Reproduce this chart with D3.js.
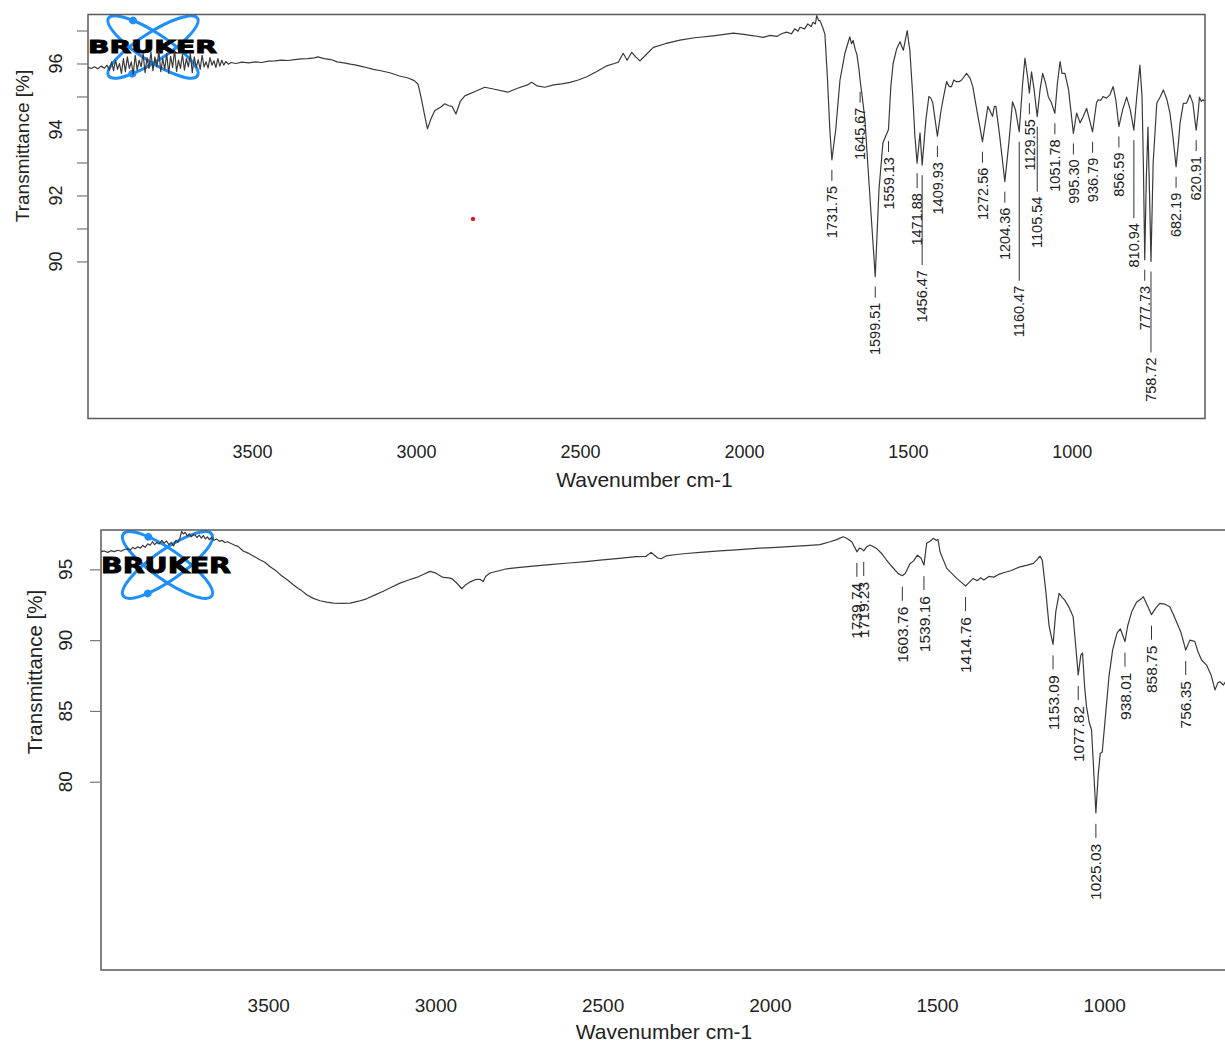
<!DOCTYPE html>
<html>
<head>
<meta charset="utf-8">
<script src="https://cdn.jsdelivr.net/npm/d3@7"></script>
<style>
body { margin: 0; background: #fff; }
svg { display: block; font-family: "Liberation Sans", Arial, sans-serif; }
</style>
</head>
<body>
<svg width="1225" height="1045"></svg>
<script>
// ---- data: [wavenumber cm-1, transmittance %] ----
let topSpectrum = [
	[4000,95.88],[3990,95.85],[3980,95.9],[3970,95.84],[3960,95.92],[3950,95.86],[3942,95.95],[3935,95.8],
	[3928,96.05],[3922,95.78],[3916,96.1],[3910,95.82],[3904,96.0],[3898,95.7],[3892,96.15],[3886,95.75],
	[3880,96.2],[3874,95.85],[3868,96.05],[3862,95.68],[3856,96.25],[3850,95.8],[3844,96.1],[3838,95.9],
	[3832,96.3],[3826,95.72],[3820,96.18],[3814,95.85],[3808,96.35],[3802,95.78],[3796,96.2],[3790,95.9],
	[3784,96.38],[3778,95.75],[3772,96.15],[3766,95.82],[3760,96.3],[3754,95.7],[3748,96.22],[3742,95.88],
	[3736,96.4],[3730,95.76],[3724,96.1],[3718,95.85],[3712,96.28],[3706,95.8],[3700,96.15],[3694,95.9],
	[3688,96.3],[3682,95.72],[3676,96.2],[3670,95.88],[3664,96.12],[3658,95.82],[3652,96.25],[3646,95.9],
	[3640,96.05],[3634,95.86],[3628,96.18],[3622,95.95],[3616,96.08],[3610,95.88],[3604,96.15],[3598,95.92],
	[3592,96.1],[3586,95.95],[3580,96.06],[3572,95.98],[3564,96.03],[3550,96.0],[3530,96.04],[3510,96.02],
	[3490,96.05],[3470,96.03],[3450,96.07],[3430,96.08],[3410,96.1],[3390,96.09],[3370,96.12],[3350,96.14],
	[3330,96.15],[3310,96.17],[3299,96.2],[3280,96.15],[3260,96.12],[3240,96.05],[3220,96.02],[3200,95.98],
	[3186,95.96],[3160,95.9],[3130,95.82],[3107,95.78],[3080,95.72],[3050,95.62],[3024,95.56],[3005,95.48],
	[2994,95.38],[2985,95.0],[2975,94.5],[2965,94.02],[2955,94.3],[2943,94.57],[2924,94.68],[2912,94.78],
	[2900,94.72],[2890,94.7],[2878,94.47],[2865,94.85],[2851,95.02],[2820,95.15],[2790,95.28],[2760,95.22],
	[2720,95.13],[2690,95.25],[2660,95.35],[2647,95.43],[2630,95.32],[2607,95.28],[2580,95.35],[2555,95.38],
	[2530,95.43],[2505,95.5],[2479,95.6],[2450,95.75],[2418,95.93],[2395,96.0],[2383,96.04],[2368,96.31],
	[2356,96.1],[2342,96.34],[2330,96.2],[2317,96.08],[2300,96.25],[2276,96.49],[2240,96.6],[2195,96.71],
	[2150,96.78],[2093,96.84],[2060,96.88],[2032,96.92],[2000,96.88],[1970,96.84],[1941,96.79],[1920,96.85],
	[1900,96.82],[1885,96.9],[1870,96.95],[1855,96.9],[1845,97.05],[1835,96.98],[1829,97.1],[1815,97.05],
	[1805,97.2],[1795,97.12],[1789,97.25],[1782,97.2],[1778,97.45],[1772,97.3],[1768,97.3],[1760,97.1],
	[1753,96.89],[1745,95.5],[1738,94.0],[1731.75,93.08],[1720,94.0],[1707,95.5],[1692,96.31],[1677,96.81],
	[1672,96.6],[1667,96.7],[1660,96.4],[1656,96.3],[1650,95.9],[1645.67,95.5],[1638,94.9],[1631,94.3],
	[1616,92.0],[1599.51,89.54],[1588,92.2],[1576,93.6],[1559.13,94.0],[1552,95.3],[1545,96.0],[1534,96.45],
	[1524,96.66],[1518,96.5],[1514,96.4],[1508,96.7],[1502,97.0],[1497,96.6],[1494,96.4],[1485,95.0],
	[1478.5,93.78],[1471.88,92.98],[1463,93.9],[1456.47,92.92],[1445,94.3],[1436,95.0],[1430,94.95],[1424,94.8],
	[1409.93,93.8],[1400,94.5],[1393,94.9],[1382,95.45],[1374,95.3],[1367,95.3],[1360,95.5],[1352,95.45],
	[1344,95.45],[1336,95.5],[1321,95.7],[1310,95.55],[1302,95.3],[1290,94.6],[1272.56,93.63],[1256,94.7],
	[1249,94.55],[1242,94.4],[1236,94.7],[1231.5,94.7],[1220,93.8],[1204.36,92.42],[1192,93.6],[1181,94.84],
	[1172,94.6],[1160.47,93.93],[1150,95.4],[1143,96.16],[1135,95.6],[1129.55,95.1],[1123,95.75],[1115,95.2],
	[1105.54,94.39],[1097,95.2],[1089,95.7],[1080,95.4],[1072,95.0],[1062,94.8],[1051.78,94.49],[1044,95.4],
	[1036,96.06],[1030,95.7],[1021,95.7],[1010,95.2],[995.3,93.88],[985.5,94.5],[975,94.2],[965,94.4],
	[955,94.64],[936.79,93.93],[925,94.8],[920,94.9],[912,94.88],[905,95.0],[895,94.95],[884,95.05],
	[874,95.3],[866,94.9],[856.59,94.09],[845,94.6],[833,94.98],[822,94.6],[810.94,93.98],[802,95.0],
	[792.5,95.95],[786,95.0],[782,93.0],[777.73,90.05],[773,92.5],[768,94.07],[763,92.0],[758.72,90.0],
	[752,93.0],[741,94.8],[730,95.0],[721,95.2],[710,94.9],[701,94.5],[692,93.8],[682.19,92.87],
	[675,93.6],[670,94.2],[660,94.79],[650,94.8],[640,95.05],[631,94.8],[620.91,93.98],[615,94.5],
	[611,94.98],[605,94.85],[600,94.9],[595,94.85]
];

let bottomSpectrum = [
	[4000,96.25],[3990,96.3],[3980,96.2],[3970,96.32],[3960,96.25],[3950,96.35],[3940,96.28],[3930,96.4],
	[3920,96.45],[3912,96.38],[3905,96.55],[3898,96.45],[3890,96.6],[3882,96.5],[3875,96.7],[3868,96.55],
	[3860,96.8],[3853,96.7],[3846,96.95],[3840,96.75],[3833,96.9],[3826,96.8],[3818,97.05],[3812,96.85],
	[3804,97.0],[3797,96.75],[3790,96.9],[3783,96.65],[3776,97.05],[3770,96.9],[3764,97.2],[3759,97.68],
	[3754,97.5],[3748,97.62],[3742,97.35],[3736,97.5],[3730,97.3],[3724,97.45],[3719,97.44],[3713,97.25],
	[3706,97.42],[3700,97.2],[3694,97.38],[3688,97.15],[3682,97.3],[3676,97.1],[3670,97.25],[3662,97.05],
	[3654,97.15],[3646,96.98],[3638,97.05],[3630,96.9],[3622,96.95],[3614,96.86],[3600,96.7],[3590,96.62],
	[3575,96.3],[3560,96.15],[3545,95.95],[3525,95.68],[3510,95.5],[3495,95.2],[3475,94.86],[3460,94.55],
	[3445,94.3],[3425,93.91],[3410,93.65],[3400,93.5],[3385,93.21],[3365,92.95],[3345,92.78],[3325,92.68],
	[3305,92.62],[3280,92.6],[3255,92.62],[3230,92.75],[3206,92.92],[3180,93.2],[3156,93.45],[3130,93.75],
	[3106,94.03],[3080,94.25],[3056,94.43],[3035,94.65],[3016,94.86],[3000,94.75],[2977,94.43],[2960,94.4],
	[2951,94.35],[2935,94.0],[2921,93.63],[2910,93.9],[2897,94.1],[2880,94.28],[2867,94.3],[2857,94.15],
	[2850,94.5],[2837,94.74],[2810,94.9],[2787,95.04],[2747,95.14],[2700,95.25],[2650,95.35],[2600,95.45],
	[2550,95.55],[2508,95.65],[2450,95.78],[2400,95.9],[2370,95.92],[2355,96.2],[2345,96.0],[2335,95.8],
	[2325,95.75],[2310,95.95],[2280,96.05],[2250,96.12],[2209,96.2],[2150,96.3],[2100,96.38],[2030,96.5],
	[1980,96.55],[1930,96.62],[1880,96.7],[1850,96.75],[1820,96.95],[1800,97.1],[1781,97.3],[1770,97.2],
	[1755,96.95],[1745,96.5],[1739.74,96.24],[1732,96.5],[1725,96.45],[1719.23,96.3],[1710,96.6],[1701,96.72],
	[1690,96.6],[1681,96.48],[1665,96.1],[1651,95.66],[1635,95.2],[1616,94.7],[1603.76,94.55],[1595,94.7],
	[1581,95.4],[1570,95.6],[1559,96.0],[1548,95.8],[1539.16,95.3],[1531,96.84],[1520,97.0],[1511,97.19],
	[1503,97.05],[1497,97.1],[1491,96.24],[1480,95.6],[1471,95.07],[1455,94.7],[1441,94.36],[1428,94.1],
	[1414.76,93.82],[1403,94.1],[1392,94.36],[1380,94.2],[1370,94.4],[1360,94.25],[1345,94.5],[1330,94.45],
	[1315,94.65],[1302,94.76],[1280,94.9],[1252,95.18],[1230,95.3],[1212,95.42],[1200,95.7],[1192,95.94],
	[1185,95.6],[1175,93.5],[1165,91.0],[1153.09,89.7],[1145,92.0],[1135,93.3],[1125,93.0],[1118,92.83],
	[1105,92.3],[1093,91.65],[1085,89.5],[1077.82,87.54],[1070,88.95],[1065,89.1],[1058,86.5],[1053,85.3],
	[1045,84.2],[1038,83.65],[1032,81.0],[1025.03,77.8],[1018,80.5],[1012,82.0],[1006,82.1],[995,85.0],
	[986,87.4],[975,89.3],[962,90.5],[952,90.8],[938.01,89.9],[930,91.0],[918,92.0],[903,92.7],
	[890,92.9],[883,93.07],[870,92.4],[858.75,91.8],[845,92.3],[834,92.6],[820,92.55],[804,92.36],
	[795,91.9],[784,91.3],[770,90.5],[756.35,89.3],[744,90.0],[735,89.95],[729,89.9],[720,89.2],
	[709,88.6],[694,88.24],[680,87.5],[669,86.48],[660,87.0],[654,87.06],[644,86.83],[636,87.1],
	[629,87.06],[620,86.9]
];

// peak picks
let topPeakWn = [1731.75, 1645.67, 1599.51, 1559.13, 1471.88, 1456.47, 1409.93, 1272.56, 1204.36, 1160.47, 1129.55,
	1105.54, 1051.78, 995.30, 936.79, 856.59, 810.94, 777.73, 758.72, 682.19, 620.91];
let topPeakT = [93.08, 95.45, 89.54, 93.95, 92.98, 92.92, 93.8, 93.63, 92.42, 93.93, 95.1,
	94.39, 94.49, 93.88, 93.93, 94.09, 93.98, 90.05, 90.0, 92.87, 93.98];
let bottomPeakWn = [1739.74, 1719.23, 1603.76, 1539.16, 1414.76, 1153.09, 1077.82, 1025.03, 938.01, 858.75, 756.35];
let bottomPeakT = [96.24, 96.3, 94.55, 95.3, 93.82, 89.7, 87.54, 77.8, 89.9, 91.8, 89.3];

let xTicks = [3500, 3000, 2500, 2000, 1500, 1000];
let topYTicks = [90, 91, 92, 93, 94, 95, 96, 97];
let topYLabels = [90, 92, 94, 96];
let bottomYTicks = [80, 85, 90, 95];
let bottomYLabels = [80, 85, 90, 95];
let strayPoint = [2826, 91.29];   // the little red dot in the upper plot

let svg = d3.select('svg');

function drawPanel(p) {
	let g = svg.append('g');
	let x = d3.scaleLinear().domain(p.xDomain).range([p.left, p.right]);
	let y = d3.scaleLinear().domain(p.yDomain).range([p.bottom, p.top]);

	let clipId = 'clip-' + p.name;
	g.append('clipPath').attr('id', clipId)
		.append('rect').attr('x', p.left).attr('y', p.top)
		.attr('width', p.right - p.left).attr('height', p.bottom - p.top);

	// Bruker logo (under the trace)
	let logo = g.append('g').attr('transform', 'translate(' + p.logo.cx + ',' + p.logo.cy + ')');
	[p.logo.angle, -p.logo.angle].forEach(function(ang, i) {
		let e = logo.append('g').attr('transform', 'rotate(' + ang + ')');
		e.append('ellipse').attr('rx', p.logo.a).attr('ry', p.logo.b)
			.attr('fill', 'none').attr('stroke', '#1e8fff').attr('stroke-width', 3);
		let t = (i == 0 ? -126 : 127) * Math.PI / 180;
		e.append('circle').attr('cx', p.logo.a * Math.cos(t)).attr('cy', p.logo.b * Math.sin(t))
			.attr('r', 3.8).attr('fill', '#1e8fff');
	});
	g.append('text')
		.attr('x', p.left).attr('y', p.logo.textY)
		.attr('textLength', p.logo.textW).attr('lengthAdjust', 'spacingAndGlyphs')
		.style('font-family', '"DejaVu Sans", sans-serif').style('font-weight', 'bold')
		.style('font-size', p.logo.textSize + 'px').attr('fill', '#000')
		.attr('stroke', '#000').attr('stroke-width', 0.9)
		.text('BRUKER');

	// frame
	g.append('rect').attr('x', p.left).attr('y', p.top)
		.attr('width', p.right - p.left).attr('height', p.bottom - p.top)
		.attr('fill', 'none').attr('stroke', '#5a5a5a').attr('stroke-width', 1.5);

	// y axis
	let yAxis = g.append('g').attr('transform', 'translate(' + p.left + ',0)')
		.call(d3.axisLeft(y).tickValues(p.yTicks).tickSize(11).tickFormat(''));
	yAxis.select('.domain').remove();
	yAxis.selectAll('.tick line').attr('stroke', '#777').attr('stroke-width', 1.2);
	g.selectAll('.ylab-' + p.name).data(p.yLabels).enter().append('text')
		.attr('transform', function(d) {
			return 'translate(' + (p.left - p.yLabelGap) + ',' + y(d) + ') rotate(-90)';
		})
		.attr('text-anchor', 'middle').attr('fill', '#222')
		.style('font-size', p.tickSize + 'px')
		.text(function(d) { return d; });

	// x axis labels
	let xAxis = g.append('g').attr('transform', 'translate(0,' + p.bottom + ')')
		.call(d3.axisBottom(x).tickValues(xTicks).tickSize(0).tickFormat(d3.format('d')));
	xAxis.select('.domain').remove();
	xAxis.selectAll('.tick text').attr('y', p.xLabelGap).attr('dy', 0)
		.attr('fill', '#222').style('font-size', p.tickSize + 'px').style('font-family', 'inherit');

	// axis titles
	g.append('text')
		.attr('x', (p.left + p.right) / 2 + p.xTitleShift).attr('y', p.bottom + p.xTitleGap)
		.attr('text-anchor', 'middle').attr('fill', '#222').style('font-size', p.xTitleSize + 'px')
		.text('Wavenumber cm-1');
	g.append('text')
		.attr('transform', 'translate(' + p.yTitleX + ',' + p.yTitleY + ') rotate(-90)')
		.attr('text-anchor', 'middle').attr('fill', '#222').style('font-size', p.titleSize + 'px')
		.text('Transmittance [%]');

	// spectrum
	let line = d3.line()
		.x(function(d) { return x(d[0]); })
		.y(function(d) { return y(d[1]); });
	g.append('path').datum(p.spectrum)
		.attr('clip-path', 'url(#' + clipId + ')')
		.attr('d', line).attr('fill', 'none')
		.attr('stroke', '#3a3a3a').attr('stroke-width', 1.2).attr('stroke-linejoin', 'round');

	// peak labels
	let peaks = p.peakWn.map(function(w, i) { return { wn: w, t: p.peakT[i] }; });
	let pk = g.selectAll('.peak-' + p.name).data(peaks).enter().append('g');
	pk.append('line')
		.attr('x1', function(d) { return x(d.wn); })
		.attr('x2', function(d) { return x(d.wn); })
		.attr('y1', function(d) { return y(d.t) + p.dash[0]; })
		.attr('y2', function(d) {
			let push = p.push[d.wn.toFixed(2)] || 0;
			return push ? y(d.t) + p.dash[2] + push - 5 : y(d.t) + p.dash[1];
		})
		.attr('stroke', '#333').attr('stroke-width', 1);
	pk.append('text')
		.attr('transform', function(d) {
			let push = p.push[d.wn.toFixed(2)] || 0;
			return 'translate(' + (x(d.wn) + p.peakSize * 0.36) + ',' + (y(d.t) + p.dash[2] + push) + ') rotate(-90)';
		})
		.attr('text-anchor', 'end').attr('fill', '#222')
		.style('font-size', p.peakSize + 'px')
		.text(function(d) { return d.wn.toFixed(2); });

	return { x: x, y: y, g: g };
}

let topPanel = drawPanel({
	name: 'top', spectrum: topSpectrum, peakWn: topPeakWn, peakT: topPeakT,
	xDomain: [4000, 594], yDomain: [85.24, 97.485],
	left: 88, right: 1205, top: 14.5, bottom: 418.5,
	yTicks: topYTicks, yLabels: topYLabels,
	tickSize: 18, titleSize: 19, xTitleSize: 21, peakSize: 14.5,
	yLabelGap: 26, xLabelGap: 39.5, xTitleGap: 68, xTitleShift: -2,
	yTitleX: 29, yTitleY: 146,
	dash: [10, 21, 26],
	push: { '1471.88': 4, '1456.47': 79, '1160.47': 128, '1105.54': 54, '810.94': 67, '758.72': 70 },
	logo: { cx: 153, cy: 47, a: 53, b: 14, angle: 33, textY: 53, textW: 129, textSize: 18 }
});

topPanel.g.append('circle')
	.attr('cx', topPanel.x(strayPoint[0])).attr('cy', topPanel.y(strayPoint[1]))
	.attr('r', 2.2).attr('fill', '#e8161b');

drawPanel({
	name: 'bottom', spectrum: bottomSpectrum, peakWn: bottomPeakWn, peakT: bottomPeakT,
	xDomain: [4000, 615], yDomain: [66.7, 97.78],
	left: 101, right: 1233, top: 530, bottom: 970,
	yTicks: bottomYTicks, yLabels: bottomYLabels,
	tickSize: 19, titleSize: 20.5, xTitleSize: 21, peakSize: 15.5,
	yLabelGap: 29, xLabelGap: 42, xTitleGap: 68.5, xTitleShift: -3,
	yTitleX: 42, yTitleY: 672,
	dash: [11, 25, 31],
	push: {},
	logo: { cx: 167.5, cy: 565, a: 54, b: 15, angle: 35, textY: 573, textW: 130, textSize: 20.5 }
});
</script>
</body>
</html>
